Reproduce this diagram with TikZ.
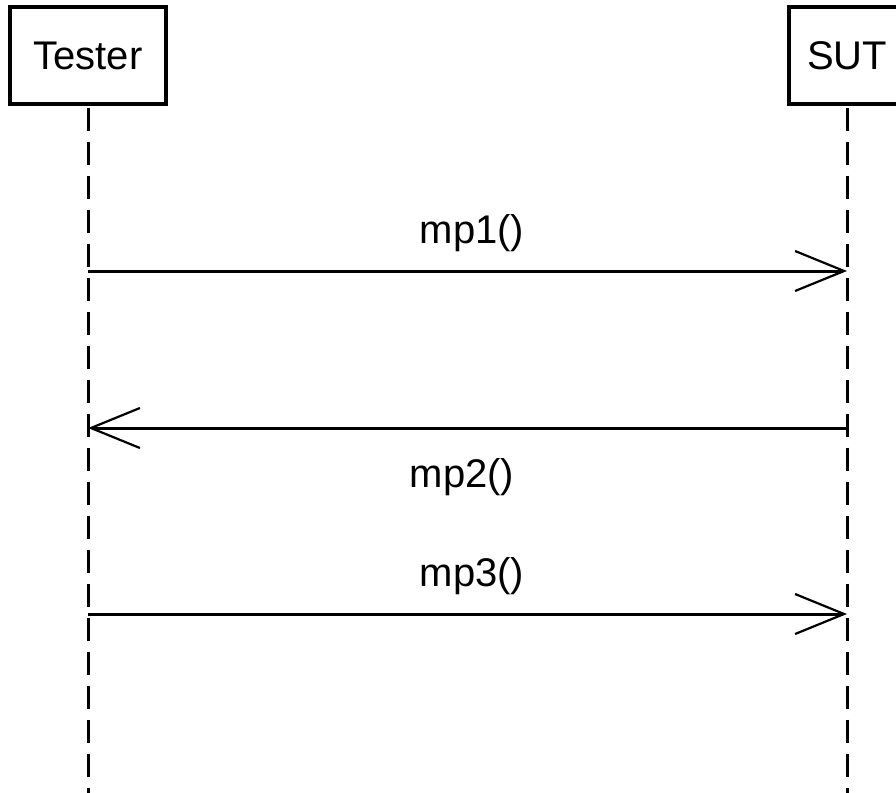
\documentclass[tikz,border=0pt]{standalone}
\usepackage{fontspec}
\setmainfont{Liberation Sans}
\usetikzlibrary{arrows.meta}
\begin{document}
\begin{tikzpicture}[x=1pt,y=-1pt,
  actor/.style={draw, line width=3.2pt, minimum height=97pt, inner sep=0pt,
    font=\fontsize{40}{48}\selectfont},
  lifeline/.style={line width=3pt, dash pattern=on 23pt off 11pt},
  msg/.style={line width=3pt,
    -{Straight Barb[length=49pt,width=40pt,line width=2.2pt]}},
  msglabel/.style={anchor=base, font=\fontsize{40}{48}\selectfont}]
\useasboundingbox (0,0) rectangle (896,792);
\clip (0,0) rectangle (896,792);

% participants
\node[actor, minimum width=156pt] (tester) at (88,55.5) {Tester};
\node[actor, minimum width=116pt] (sut) at (847,55.5) {SUT};

% lifelines
\coordinate (testerEnd) at (88,800);
\coordinate (sutEnd) at (847,800);
\draw[lifeline] ([yshift=-2pt]tester.south) -- (testerEnd);
\draw[lifeline] ([yshift=-2pt]sut.south) -- (sutEnd);

% message anchor points on the lifelines
\coordinate (t1) at (88,271);
\coordinate (s1) at (847,271);
\coordinate (t2) at (88,428);
\coordinate (s2) at (847,428);
\coordinate (t3) at (88,614);
\coordinate (s3) at (847,614);

% messages
\draw[msg] (t1) -- (s1);
\draw[msg] (s2) -- (t2);
\draw[msg] (t3) -- (s3);

% message labels
\node[msglabel] (l1) at (472,243) {mp1()};
\node[msglabel] (l2) at (462,487) {mp2()};
\node[msglabel] (l3) at (472,586) {mp3()};
\end{tikzpicture}
\end{document}
